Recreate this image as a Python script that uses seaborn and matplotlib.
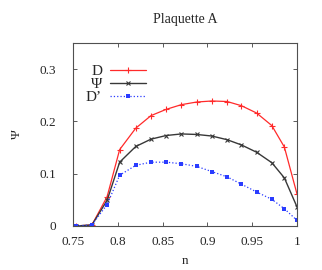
import pandas as pd
import matplotlib
matplotlib.use('Agg')
import matplotlib.pyplot as plt
import seaborn as sns

# values
n = [0.753, 0.771, 0.788, 0.802, 0.820, 0.837, 0.854, 0.871,
     0.888, 0.905, 0.922, 0.938, 0.955, 0.972, 0.986, 1.0]
d_vals = [0.0, 0.002, 0.056, 0.146, 0.187, 0.211, 0.223, 0.232,
          0.237, 0.239, 0.238, 0.230, 0.216, 0.192, 0.151, 0.062]
psi_vals = [0.0, 0.002, 0.049, 0.122, 0.152, 0.166, 0.173, 0.176,
            0.175, 0.172, 0.165, 0.155, 0.141, 0.121, 0.092, 0.037]
dprime_vals = [0.0, 0.002, 0.041, 0.097, 0.116, 0.122, 0.122, 0.119,
               0.114, 0.104, 0.094, 0.080, 0.065, 0.051, 0.033, 0.011]
xticks = [0.75, 0.8, 0.85, 0.9, 0.95, 1]
xtick_labels = ['0.75', '0.8', '0.85', '0.9', '0.95', '1']
yticks = [0, 0.1, 0.2, 0.3]
ytick_labels = ['0', '0.1', '0.2', '0.3']

sns.set_style('ticks')
plt.rcParams['font.family'] = ['Liberation Serif', 'DejaVu Serif']

fig = plt.figure(figsize=(3.22, 2.70), dpi=100)
ax = fig.add_axes([0.227, 0.163, 0.695, 0.678])

red, grey, blue = '#ff2a2a', '#383838', '#2a3cff'
sns.lineplot(x=n, y=d_vals, ax=ax, color=red, lw=0.9, marker='+',
             markersize=4, mew=0.8, mec=red, label='D')
sns.lineplot(x=n, y=psi_vals, ax=ax, color=grey, lw=1.0, marker='x',
             markersize=3, mew=0.8, mec=grey, label='Ψ')
sns.lineplot(x=n, y=dprime_vals, ax=ax, color=blue, lw=0.9, marker='s',
             markersize=2.6, mew=0, mfc=blue, linestyle=':', label='D’')

ax.set_xlim(0.75, 1.0)
ax.set_ylim(0, 0.35)
ax.set_xticks(xticks)
ax.set_xticklabels(xtick_labels)
ax.set_yticks(yticks)
ax.set_yticklabels(ytick_labels)
ax.tick_params(direction='in', length=3, width=0.6, top=True, right=True,
               labelsize=9.5, color='#404040')
ax.tick_params(axis='x', pad=7)
ax.tick_params(axis='y', pad=12)
for s in ax.spines.values():
    s.set_linewidth(0.8)
    s.set_color('#505050')

ax.set_title('Plaquette A', fontsize=10, pad=14)
ax.set_xlabel('n', fontsize=9.5, labelpad=5)
ax.set_ylabel('Ψ', fontsize=9.5, labelpad=12)

leg = ax.legend(loc='upper left', frameon=False, markerfirst=False,
                fontsize=11, handlelength=2.4, handletextpad=0.5,
                labelspacing=-0.05, borderaxespad=0.0,
                bbox_to_anchor=(0.03, 0.915))

fig.savefig('out.png', dpi=100)
